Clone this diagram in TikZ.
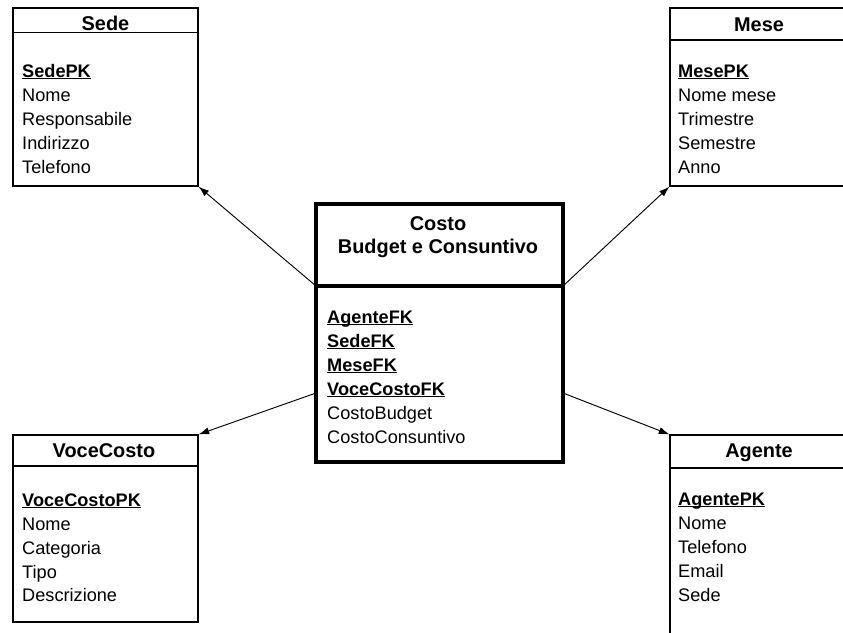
\documentclass[tikz,border=0pt]{standalone}
\usepackage{fontspec}
\setmainfont{Liberation Sans}
\usetikzlibrary{arrows.meta}

\newcommand{\keyf}[1]{\underline{\smash{\textbf{#1}}}}
\newcommand{\dgfont}{\fontsize{15.5pt}{18pt}\selectfont}
\newcommand{\dgtitlefont}{\fontsize{17pt}{20pt}\selectfont\bfseries}

\tikzset{
  box/.style={draw, line width=1pt, inner sep=0pt},
  mainbox/.style={draw, line width=2.6pt, inner sep=0pt},
  field/.style={anchor=base west, inner sep=0pt, font=\dgfont},
  title/.style={anchor=base, inner sep=0pt, font=\dgtitlefont},
  arr/.style={-{Latex[length=9pt,width=6pt]}, line width=0.8pt}
}

\begin{document}
\begin{tikzpicture}[x=0.03cm, y=-0.03cm]
      \useasboundingbox (0,0) rectangle (843,632);
      \clip (0,0) rectangle (843,632);

      \node[box, minimum width=5.55cm, minimum height=5.34cm] (sede) at (105.5,97) {};
      \draw[line width=1pt] (13,32.5) -- (198,32.5);
      \node[title] (sedeT) at (105.5,30.5) {Sede};
      \node[field] (sede1) at (22,77) {\keyf{SedePK}};
      \node[field] (sede2) at (22,101) {Nome};
      \node[field] (sede3) at (22,125) {Responsabile};
      \node[field] (sede4) at (22,149) {Indirizzo};
      \node[field] (sede5) at (22,173) {Telefono};

      \node[box, minimum width=5.4cm, minimum height=5.34cm] (mese) at (760,97) {};
      \draw[line width=1pt] (670,40) -- (850,40);
      \node[title] (meseT) at (759,31) {Mese};
      \node[field] (mese1) at (678,77) {\keyf{MesePK}};
      \node[field] (mese2) at (678,101) {Nome mese};
      \node[field] (mese3) at (678,125) {Trimestre};
      \node[field] (mese4) at (678,149) {Semestre};
      \node[field] (mese5) at (678,173) {Anno};

      \node[box, minimum width=5.55cm, minimum height=5.61cm] (voce) at (105.5,528.5) {};
      \draw[line width=1pt] (13,466) -- (198,466);
      \node[title] (voceT) at (104,457) {VoceCosto};
      \node[field] (voce1) at (22,506) {\keyf{VoceCostoPK}};
      \node[field] (voce2) at (22,530) {Nome};
      \node[field] (voce3) at (22,554) {Categoria};
      \node[field] (voce4) at (22,578) {Tipo};
      \node[field] (voce5) at (22,601) {Descrizione};

      \node[box, minimum width=5.4cm, minimum height=6.6cm] (agente) at (760,545) {};
      \draw[line width=1pt] (670,468) -- (850,468);
      \node[title] (agenteT) at (759,457) {Agente};
      \node[field] (agente1) at (678,505) {\keyf{AgentePK}};
      \node[field] (agente2) at (678,529) {Nome};
      \node[field] (agente3) at (678,553) {Telefono};
      \node[field] (agente4) at (678,577) {Email};
      \node[field] (agente5) at (678,601) {Sede};

      \node[mainbox, minimum width=7.41cm, minimum height=7.74cm] (costo) at (439.5,333) {};
      \draw[line width=2.6pt] (316,286) coordinate (hl) -- (563,286) coordinate (hr);
      \node[title] (costoT1) at (438,230) {Costo};
      \node[title] (costoT2) at (438,253) {Budget e Consuntivo};
      \node[field] (costo1) at (327,323) {\keyf{AgenteFK}};
      \node[field] (costo2) at (327,347) {\keyf{SedeFK}};
      \node[field] (costo3) at (327,371) {\keyf{MeseFK}};
      \node[field] (costo4) at (327,395) {\keyf{VoceCostoFK}};
      \node[field] (costo5) at (327,419) {CostoBudget};
      \node[field] (costo6) at (327,443) {CostoConsuntivo};

      \coordinate (fl) at (316,393);
      \coordinate (fr) at (563,393);

      \draw[arr] (hl) -- (sede.south east);
      \draw[arr] (hr) -- (mese.south west);
      \draw[arr] (fl) -- (voce.north east);
      \draw[arr] (fr) -- (agente.north west);
  \end{tikzpicture}
\end{document}
